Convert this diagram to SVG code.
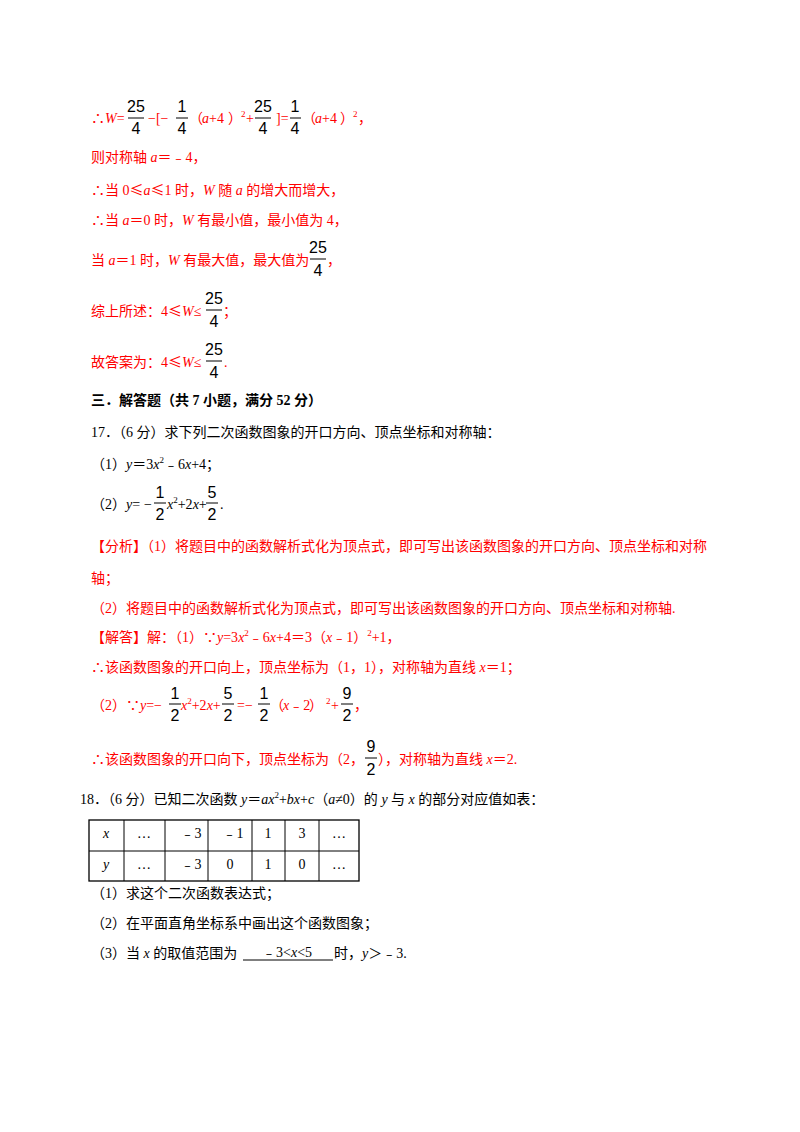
<svg xmlns="http://www.w3.org/2000/svg" width="800" height="1132" viewBox="0 0 800 1132">
<style>
text{font-family:"Liberation Serif","Noto Sans CJK SC",serif;font-size:14px;fill:#000}
.r{fill:#ff0000}
.i{font-style:italic}
.c{font-family:"Noto Sans CJK SC",sans-serif}
.f{font-family:"Liberation Sans","Noto Sans CJK SC",sans-serif;font-size:16px;text-anchor:middle;fill:#000}
.b{font-weight:bold}
.sup{font-size:9px}
line{stroke:#000;stroke-width:1}
</style>
<rect width="800" height="1132" fill="#fff"/>
<g id="solution16">
<text x="91" y="123" class="r">∴<tspan class="i">W</tspan>=</text>
<text x="136" y="112" class="f">25</text><line x1="128" y1="118" x2="144" y2="118"/><text x="136" y="134" class="f">4</text>
<text x="148" y="123" class="r">−[−</text>
<text x="182" y="112" class="f">1</text><line x1="176" y1="118" x2="188" y2="118"/><text x="182" y="134" class="f">4</text>
<text x="189" y="123" class="r">（</text><text x="202" y="123" class="r"><tspan class="i">a</tspan>+4</text><text x="228" y="123" class="r">）</text>
<text x="241" y="117" class="r sup">2</text><text x="246" y="123" class="r">+</text>
<text x="263" y="112" class="f">25</text><line x1="255" y1="118" x2="271" y2="118"/><text x="263" y="134" class="f">4</text>
<text x="276" y="123" class="r">]=</text>
<text x="295" y="112" class="f">1</text><line x1="290" y1="118" x2="301" y2="118"/><text x="295" y="134" class="f">4</text>
<text x="302" y="123" class="r">（</text><text x="315" y="123" class="r"><tspan class="i">a</tspan>+4</text><text x="340" y="123" class="r">）</text>
<text x="353" y="117" class="r sup">2</text><text x="358" y="123" class="r">，</text>
<text x="91" y="162" class="r">则对称轴 <tspan class="i">a</tspan>＝﹣4，</text>
<text x="91" y="195" class="r">∴当 0<tspan class="c">≤</tspan><tspan class="i">a</tspan><tspan class="c">≤</tspan>1 时，<tspan class="i">W</tspan> 随 <tspan class="i">a</tspan> 的增大而增大，</text>
<text x="91" y="225" class="r">∴当 <tspan class="i">a</tspan>＝0 时，<tspan class="i">W</tspan> 有最小值，最小值为 4，</text>
<text x="91" y="265" class="r">当 <tspan class="i">a</tspan>＝1 时，<tspan class="i">W</tspan> 有最大值，最大值为</text>
<text x="318" y="253" class="f">25</text><line x1="310" y1="259" x2="326" y2="259"/><text x="318" y="276" class="f">4</text>
<text x="327" y="265" class="r">，</text>
<text x="91" y="316" class="r">综上所述：4<tspan class="c">≤</tspan><tspan class="i">W</tspan>≤</text>
<text x="214" y="304" class="f">25</text><line x1="206" y1="310" x2="222" y2="310"/><text x="214" y="327" class="f">4</text>
<text x="223" y="316" class="r">；</text>
<text x="91" y="367" class="r">故答案为：4<tspan class="c">≤</tspan><tspan class="i">W</tspan>≤</text>
<text x="214" y="355" class="f">25</text><line x1="206" y1="361" x2="222" y2="361"/><text x="214" y="378" class="f">4</text>
<text x="224" y="367" class="r">.</text>
</g>
<g id="section3">
<text x="91" y="405" class="b">三．解答题（共 7 小题，满分 52 分）</text>
</g>
<g id="q17">
<text x="91" y="437">17．（6 分）求下列二次函数图象的开口方向、顶点坐标和对称轴：</text>
<text x="91" y="469">（1）<tspan class="i">y</tspan>＝3<tspan class="i">x</tspan><tspan class="sup" dy="-6">2</tspan><tspan dy="6">﹣6</tspan><tspan class="i">x</tspan>+4；</text>
<text x="91" y="509">（2）<tspan class="i">y</tspan>=</text>
<text x="144" y="509">−</text>
<text x="160" y="498" class="f">1</text><line x1="154" y1="503" x2="166" y2="503"/><text x="160" y="520" class="f">2</text>
<text x="167" y="509"><tspan class="i">x</tspan><tspan class="sup" dy="-6">2</tspan><tspan dy="6">+2</tspan><tspan class="i">x</tspan>+</text>
<text x="212" y="498" class="f">5</text><line x1="206" y1="503" x2="218" y2="503"/><text x="212" y="520" class="f">2</text>
<text x="220" y="509">.</text>
</g>
<g id="analysis17">
<text x="91" y="551" class="r">【分析】（1）将题目中的函数解析式化为顶点式，即可写出该函数图象的开口方向、顶点坐标和对称</text>
<text x="91" y="583" class="r">轴；</text>
<text x="91" y="613" class="r">（2）将题目中的函数解析式化为顶点式，即可写出该函数图象的开口方向、顶点坐标和对称轴.</text>
<text x="91" y="642" class="r">【解答】解：（1）∵<tspan class="i">y</tspan>=3<tspan class="i">x</tspan><tspan class="sup" dy="-6">2</tspan><tspan dy="6">﹣6</tspan><tspan class="i">x</tspan>+4＝3（<tspan class="i">x</tspan>﹣1）<tspan class="sup" dy="-6">2</tspan><tspan dy="6">+1，</tspan></text>
<text x="91" y="672" class="r">∴该函数图象的开口向上，顶点坐标为（1，1），对称轴为直线 <tspan class="i">x</tspan>＝1；</text>
<text x="91" y="710" class="r">（2）∵<tspan class="i">y</tspan>=−</text>
<text x="175" y="699" class="f">1</text><line x1="169" y1="704" x2="181" y2="704"/><text x="175" y="721" class="f">2</text>
<text x="181" y="710" class="r"><tspan class="i">x</tspan><tspan class="sup" dy="-6">2</tspan><tspan dy="6">+2</tspan><tspan class="i">x</tspan>+</text>
<text x="228" y="699" class="f">5</text><line x1="222" y1="704" x2="234" y2="704"/><text x="228" y="721" class="f">2</text>
<text x="237" y="710" class="r">=−</text>
<text x="264" y="699" class="f">1</text><line x1="258" y1="704" x2="270" y2="704"/><text x="264" y="721" class="f">2</text>
<text x="270" y="710" class="r">（</text><text x="283" y="710" class="r"><tspan class="i">x</tspan>﹣2</text><text x="309" y="710" class="r">）</text>
<text x="326" y="704" class="r sup">2</text><text x="331" y="710" class="r">+</text>
<text x="347" y="699" class="f">9</text><line x1="341" y1="704" x2="353" y2="704"/><text x="347" y="721" class="f">2</text>
<text x="354" y="710" class="r">，</text>
<text x="91" y="764" class="r">∴该函数图象的开口向下，顶点坐标为（2，</text>
<text x="371" y="752" class="f">9</text><line x1="365" y1="758" x2="377" y2="758"/><text x="371" y="775" class="f">2</text>
<text x="378" y="764" class="r">），对称轴为直线 <tspan class="i">x</tspan>＝2.</text>
</g>
<g id="q18">
<text x="80" y="804">18．（6 分）已知二次函数 <tspan class="i">y</tspan>＝<tspan class="i">ax</tspan><tspan class="sup" dy="-6">2</tspan><tspan dy="6">+</tspan><tspan class="i">bx</tspan>+<tspan class="i">c</tspan>（<tspan class="i">a</tspan>≠0）的 <tspan class="i">y</tspan> 与 <tspan class="i">x</tspan> 的部分对应值如表：</text>
</g>
<g id="table">
<rect x="89" y="820" width="270" height="61" fill="none" stroke="#000" stroke-width="1.3"/>
<line x1="89" y1="851" x2="359" y2="851"/>
<line x1="124" y1="820" x2="124" y2="881"/>
<line x1="165" y1="820" x2="165" y2="881"/>
<line x1="208" y1="820" x2="208" y2="881"/>
<line x1="252" y1="820" x2="252" y2="881"/>
<line x1="285" y1="820" x2="285" y2="881"/>
<line x1="319" y1="820" x2="319" y2="881"/>
<text x="106" y="838" class="i" text-anchor="middle">x</text>
<text x="144" y="838" text-anchor="middle">…</text>
<text x="191" y="838" text-anchor="middle">﹣3</text>
<text x="233" y="838" text-anchor="middle">﹣1</text>
<text x="268" y="838" text-anchor="middle">1</text>
<text x="302" y="838" text-anchor="middle">3</text>
<text x="339" y="838" text-anchor="middle">…</text>
<text x="106" y="869" class="i" text-anchor="middle">y</text>
<text x="144" y="869" text-anchor="middle">…</text>
<text x="191" y="869" text-anchor="middle">﹣3</text>
<text x="230" y="869" text-anchor="middle">0</text>
<text x="268" y="869" text-anchor="middle">1</text>
<text x="302" y="869" text-anchor="middle">0</text>
<text x="339" y="869" text-anchor="middle">…</text>
</g>
<g id="q18parts">
<text x="91" y="898">（1）求这个二次函数表达式；</text>
<text x="91" y="928">（2）在平面直角坐标系中画出这个函数图象；</text>
<text x="91" y="958">（3）当 <tspan class="i">x</tspan> 的取值范围为</text>
<text x="262" y="957">﹣3&lt;<tspan class="i">x</tspan>&lt;5</text>
<line x1="243" y1="960" x2="333" y2="960"/>
<text x="334" y="958">时，<tspan class="i">y</tspan>＞﹣3.</text>
</g>
</svg>
